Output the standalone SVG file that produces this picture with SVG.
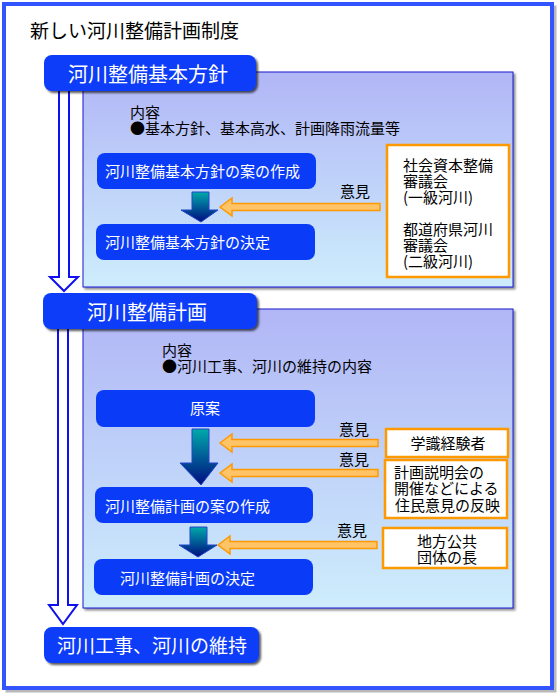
<svg xmlns="http://www.w3.org/2000/svg" width="558" height="694" viewBox="0 0 558 694">
<style>
text{font-family:"Noto Sans CJK JP","Noto Sans CJK SC",sans-serif;}
.title{font-size:19px;fill:#000;}
.top{fill:#0a3cf8;filter:url(#sh);}
.toptxt{font-size:20px;fill:#fff;}
.panel{fill:url(#pg);stroke:#1a1acc;stroke-width:1;filter:url(#sh2);}
.inner{fill:#0a3cf8;}
.intxt{font-size:15px;fill:#fff;}
.lbl{font-size:15px;fill:#000;}
.obox{fill:#fff;stroke:#ff9900;stroke-width:2.5;}
.otxt{font-size:15px;fill:#000;}
.hollow{fill:#fff;stroke:#1010ee;stroke-width:2;}
.teal{fill:url(#tg);stroke:#2244cc;stroke-width:1;}
.orange{fill:#ffc468;stroke:#ff9900;stroke-width:1.5;}
</style>
<defs>
<linearGradient id="pg" x1="0" y1="0" x2="0" y2="1">
<stop offset="0" stop-color="#b1b6f6"/>
<stop offset="1" stop-color="#cdedfc"/>
</linearGradient>
<linearGradient id="tg" x1="0" y1="0" x2="0" y2="1">
<stop offset="0" stop-color="#00aaaa"/>
<stop offset="1" stop-color="#000c80"/>
</linearGradient>
<filter id="sh" x="-10%" y="-20%" width="120%" height="150%">
<feDropShadow dx="2" dy="2" stdDeviation="1" flood-color="#000" flood-opacity="0.65"/>
</filter>
<filter id="sh2" x="-5%" y="-5%" width="110%" height="110%">
<feDropShadow dx="2" dy="2" stdDeviation="0.8" flood-color="#000" flood-opacity="0.45"/>
</filter>
</defs>
<rect width="558" height="694" fill="#fff"/>
<rect x="7" y="7" width="548" height="684" fill="none" stroke="#b8b8b8" stroke-width="3"/>
<rect x="4" y="4" width="548" height="684" fill="#fff" stroke="#3355ff" stroke-width="4"/>
<text class="title" x="30" y="38">新しい河川整備計画制度</text>

<g id="panel1">
<rect class="panel" x="83" y="72" width="430" height="215"/>
<text class="lbl" x="130" y="118">内容</text>
<text class="lbl" x="130" y="134">●基本方針、基本高水、計画降雨流量等</text>
</g>
<g id="panel2">
<rect class="panel" x="83" y="309" width="430" height="299"/>
<text class="lbl" x="162" y="356">内容</text>
<text class="lbl" x="162" y="372">●河川工事、河川の維持の内容</text>
</g>

<g id="connectors">
<path class="hollow" d="M59,88 V277 H50 L64,291 L78,277 H69 V88 Z"/>
<path class="hollow" d="M58,326 V605 H49 L63,624 L77,605 H68 V326 Z"/>
<path class="teal" d="M192,192 H209 V210 H218 L201,222 L181,210 H192 Z"/>
<path class="teal" d="M192,429 H209 V463 H218 L201,485 L180,463 H192 Z"/>
<path class="teal" d="M190,527 H207 V545 H217 L198,557 L179,545 H190 Z"/>
<path class="orange" d="M220,207 L232,198 V203.5 H380 V210.5 H232 V216 Z"/>
<path class="orange" d="M220,443 L232,434 V439.5 H378 V446.5 H232 V452 Z"/>
<path class="orange" d="M220,473 L232,464 V469.5 H378 V476.5 H232 V482 Z"/>
<path class="orange" d="M218,545 L230,536 V541.5 H377 V548.5 H230 V554 Z"/>
<text class="lbl" x="340" y="197">意見</text>
<text class="lbl" x="339" y="435">意見</text>
<text class="lbl" x="339" y="465">意見</text>
<text class="lbl" x="337" y="536">意見</text>
</g>

<g id="box1">
<rect class="top" x="44" y="55" width="212" height="36" rx="8"/>
<text class="toptxt" x="68" y="82">河川整備基本方針</text>
</g>
<g id="box2">
<rect class="top" x="43" y="293" width="214" height="36" rx="8"/>
<text class="toptxt" x="87" y="320">河川整備計画</text>
</g>
<g id="box3">
<rect class="top" x="44" y="627" width="215" height="36" rx="8"/>
<text class="toptxt" x="57" y="653" style="font-size:19px">河川工事、河川の維持</text>
</g>

<g id="n1a">
<rect class="inner" x="97" y="153" width="219" height="36" rx="8"/>
<text class="intxt" x="105" y="177">河川整備基本方針の案の作成</text>
</g>
<g id="n1b">
<rect class="inner" x="96" y="224" width="219" height="36" rx="8"/>
<text class="intxt" x="105" y="248">河川整備基本方針の決定</text>
</g>
<g id="o1">
<rect class="obox" x="387" y="145" width="122" height="132"/>
<text class="otxt" x="403" y="171">社会資本整備</text>
<text class="otxt" x="403" y="187">審議会</text>
<text class="otxt" x="403" y="203">(一級河川)</text>
<text class="otxt" x="403" y="235">都道府県河川</text>
<text class="otxt" x="403" y="251">審議会</text>
<text class="otxt" x="403" y="267">(二級河川)</text>
</g>

<g id="n2a">
<rect class="inner" x="96" y="390" width="219" height="37" rx="8"/>
<text class="intxt" x="205" y="414" text-anchor="middle">原案</text>
</g>
<g id="n2b">
<rect class="inner" x="95" y="487" width="218" height="36" rx="8"/>
<text class="intxt" x="105" y="512">河川整備計画の案の作成</text>
</g>
<g id="n2c">
<rect class="inner" x="94" y="559" width="219" height="36" rx="8"/>
<text class="intxt" x="120" y="584">河川整備計画の決定</text>
</g>
<g id="o2">
<rect class="obox" x="386" y="429" width="122" height="28"/>
<text class="otxt" x="448" y="449" text-anchor="middle">学識経験者</text>
</g>
<g id="o3">
<rect class="obox" x="385" y="460" width="122" height="58"/>
<text class="otxt" x="394" y="478">計画説明会の</text>
<text class="otxt" x="394" y="494">開催などによる</text>
<text class="otxt" x="395" y="511">住民意見の反映</text>
</g>
<g id="o4">
<rect class="obox" x="383" y="528" width="124" height="40"/>
<text class="otxt" x="417" y="547">地方公共</text>
<text class="otxt" x="417" y="563">団体の長</text>
</g>
</svg>
